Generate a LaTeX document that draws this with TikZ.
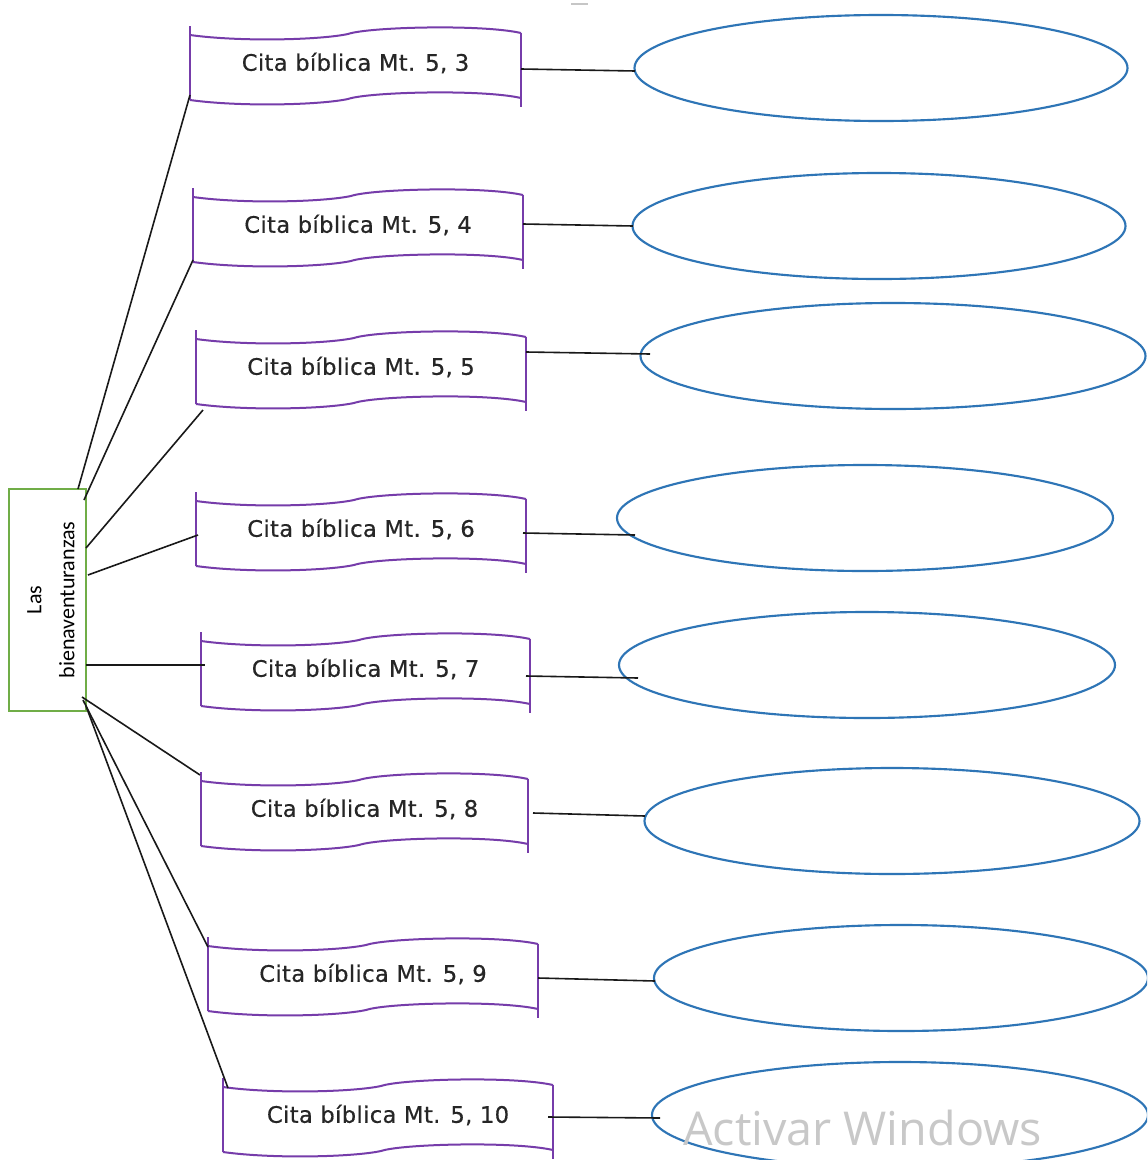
\documentclass[tikz,border=0pt]{standalone}
\usepackage{fontspec}
\setmainfont{DejaVu Sans}
\newfontfamily\banfont[LetterSpace=1.5,FakeBold=0.5]{DejaVu Sans}
\newfontfamily\carl{Carlito}
\newfontfamily\winf{Open Sans}
\usetikzlibrary{shapes.geometric}
\definecolor{banpurple}{RGB}{118,60,170}
\definecolor{boxgreen}{RGB}{112,173,71}
\definecolor{ellblue}{RGB}{46,117,182}
\definecolor{wmgray}{RGB}{200,200,200}
\tikzset{
  banline/.style={draw=banpurple, line width=1.5pt},
  bantext/.style={font=\banfont\fontsize{17}{19}\selectfont, text=black!85, inner sep=0pt},
  conn/.style={draw=black!90, line width=1.2pt},
  ell/.style={ellipse, draw=ellblue, line width=1.6pt, inner sep=0pt, minimum height=79.5pt},
}
\newcommand\mybanner[5]{% name, L, T, W, text
  \draw[banline] ({#2},{#3}) -- ({#2},{#3+74});
  \draw[banline] ({#2+#4},{#3+7}) -- ({#2+#4},{#3+81});
  \draw[banline] ({#2},{#3+9}) .. controls ({#2+50},{#3+16}) and ({#2+130},{#3+14}) .. ({#2+158},{#3+8}) .. controls ({#2+178},{#3+1}) and ({#2+#4-40},{#3-2}) .. ({#2+#4},{#3+7});
  \draw[banline] ({#2},{#3+74}) .. controls ({#2+50},{#3+81}) and ({#2+130},{#3+79}) .. ({#2+158},{#3+73}) .. controls ({#2+178},{#3+66}) and ({#2+#4-40},{#3+63}) .. ({#2+#4},{#3+72});
  \node[bantext] (#1) at ({#2+#4/2},{#3+37}) {#5};
}
\begin{document}
\begin{tikzpicture}[x=0.75pt,y=-0.75pt]
\useasboundingbox (0,0) rectangle (1147,1160);
\clip (0,0) rectangle (1147,1160);
\fill[white] (0,0) rectangle (1147,1160);

% small mark at top
\draw[gray!45, line width=1.5pt] (571,4) -- (588,4);

% left box
\node[draw=boxgreen, line width=1.1pt, minimum width=57.75pt, minimum height=166.5pt, inner sep=0pt] (lb) at (47.5,600) {};
\node[rotate=90, align=center, inner sep=0pt, font=\carl\fontsize{16.5}{24.75}\selectfont] (lbt) at (51,600) {Las\\bienaventuranzas};

% banners
\mybanner{b1}{190}{26}{331}{Cita bíblica Mt. 5, 3}
\mybanner{b2}{193}{188}{330}{Cita bíblica Mt. 5, 4}
\mybanner{b3}{196}{330}{330}{Cita bíblica Mt. 5, 5}
\mybanner{b4}{196}{492}{330}{Cita bíblica Mt. 5, 6}
\mybanner{b5}{201}{632}{329}{Cita bíblica Mt. 5, 7}
\mybanner{b6}{201}{772}{327}{Cita bíblica Mt. 5, 8}
\mybanner{b7}{208}{937}{330}{Cita bíblica Mt. 5, 9}
\mybanner{b8}{223}{1078}{330}{Cita bíblica Mt. 5, 10}

% ellipses
\node[ell, minimum width=369.75pt] (e1) at (881,68) {};
\node[ell, minimum width=369.75pt] (e2) at (879,226) {};
\node[ell, minimum width=378.75pt] (e3) at (893,356) {};
\node[ell, minimum width=372pt] (e4) at (865,518) {};
\node[ell, minimum width=372pt] (e5) at (867,665) {};
\node[ell, minimum width=371.25pt] (e6) at (892,821) {};
\node[ell, minimum width=370.5pt] (e7) at (901,978) {};
\node[ell, minimum width=372pt] (e8) at (900,1115) {};

% connector end points
\coordinate (lb-1) at (78,489);  \coordinate (b1-l) at (190,95);
\coordinate (lb-2) at (84,500);  \coordinate (b2-l) at (193,260);
\coordinate (lb-3) at (86,548);  \coordinate (b3-l) at (203,410);
\coordinate (lb-4) at (88,575);  \coordinate (b4-l) at (198,535);
\coordinate (lb-5) at (86,665);  \coordinate (b5-l) at (205,665);
\coordinate (lb-6) at (82,697);  \coordinate (b6-l) at (200,775);
\coordinate (lb-7) at (83,700);  \coordinate (b7-l) at (208,947);
\coordinate (lb-8) at (86,706);  \coordinate (b8-l) at (228,1088);

\coordinate (b1-r) at (521,69);  \coordinate (e1-l) at (635,71);
\coordinate (b2-r) at (523,224); \coordinate (e2-l) at (633,226);
\coordinate (b3-r) at (526,352); \coordinate (e3-l) at (650,354);
\coordinate (b4-r) at (523,533); \coordinate (e4-l) at (635,535);
\coordinate (b5-r) at (526,676); \coordinate (e5-l) at (638,678);
\coordinate (b6-r) at (533,813); \coordinate (e6-l) at (645,816);
\coordinate (b7-r) at (538,978); \coordinate (e7-l) at (655,981);
\coordinate (b8-r) at (548,1117);\coordinate (e8-l) at (660,1118);

\foreach \i in {1,...,8}{
  \draw[conn] (lb-\i) -- (b\i-l);
  \draw[conn] (b\i-r) -- (e\i-l);
}

% watermark
\node[font=\winf\fontsize{35}{35}\selectfont, text=wmgray, anchor=base west, inner sep=0pt] (wm) at (683,1145) {Activar Windows};
\end{tikzpicture}
\end{document}
